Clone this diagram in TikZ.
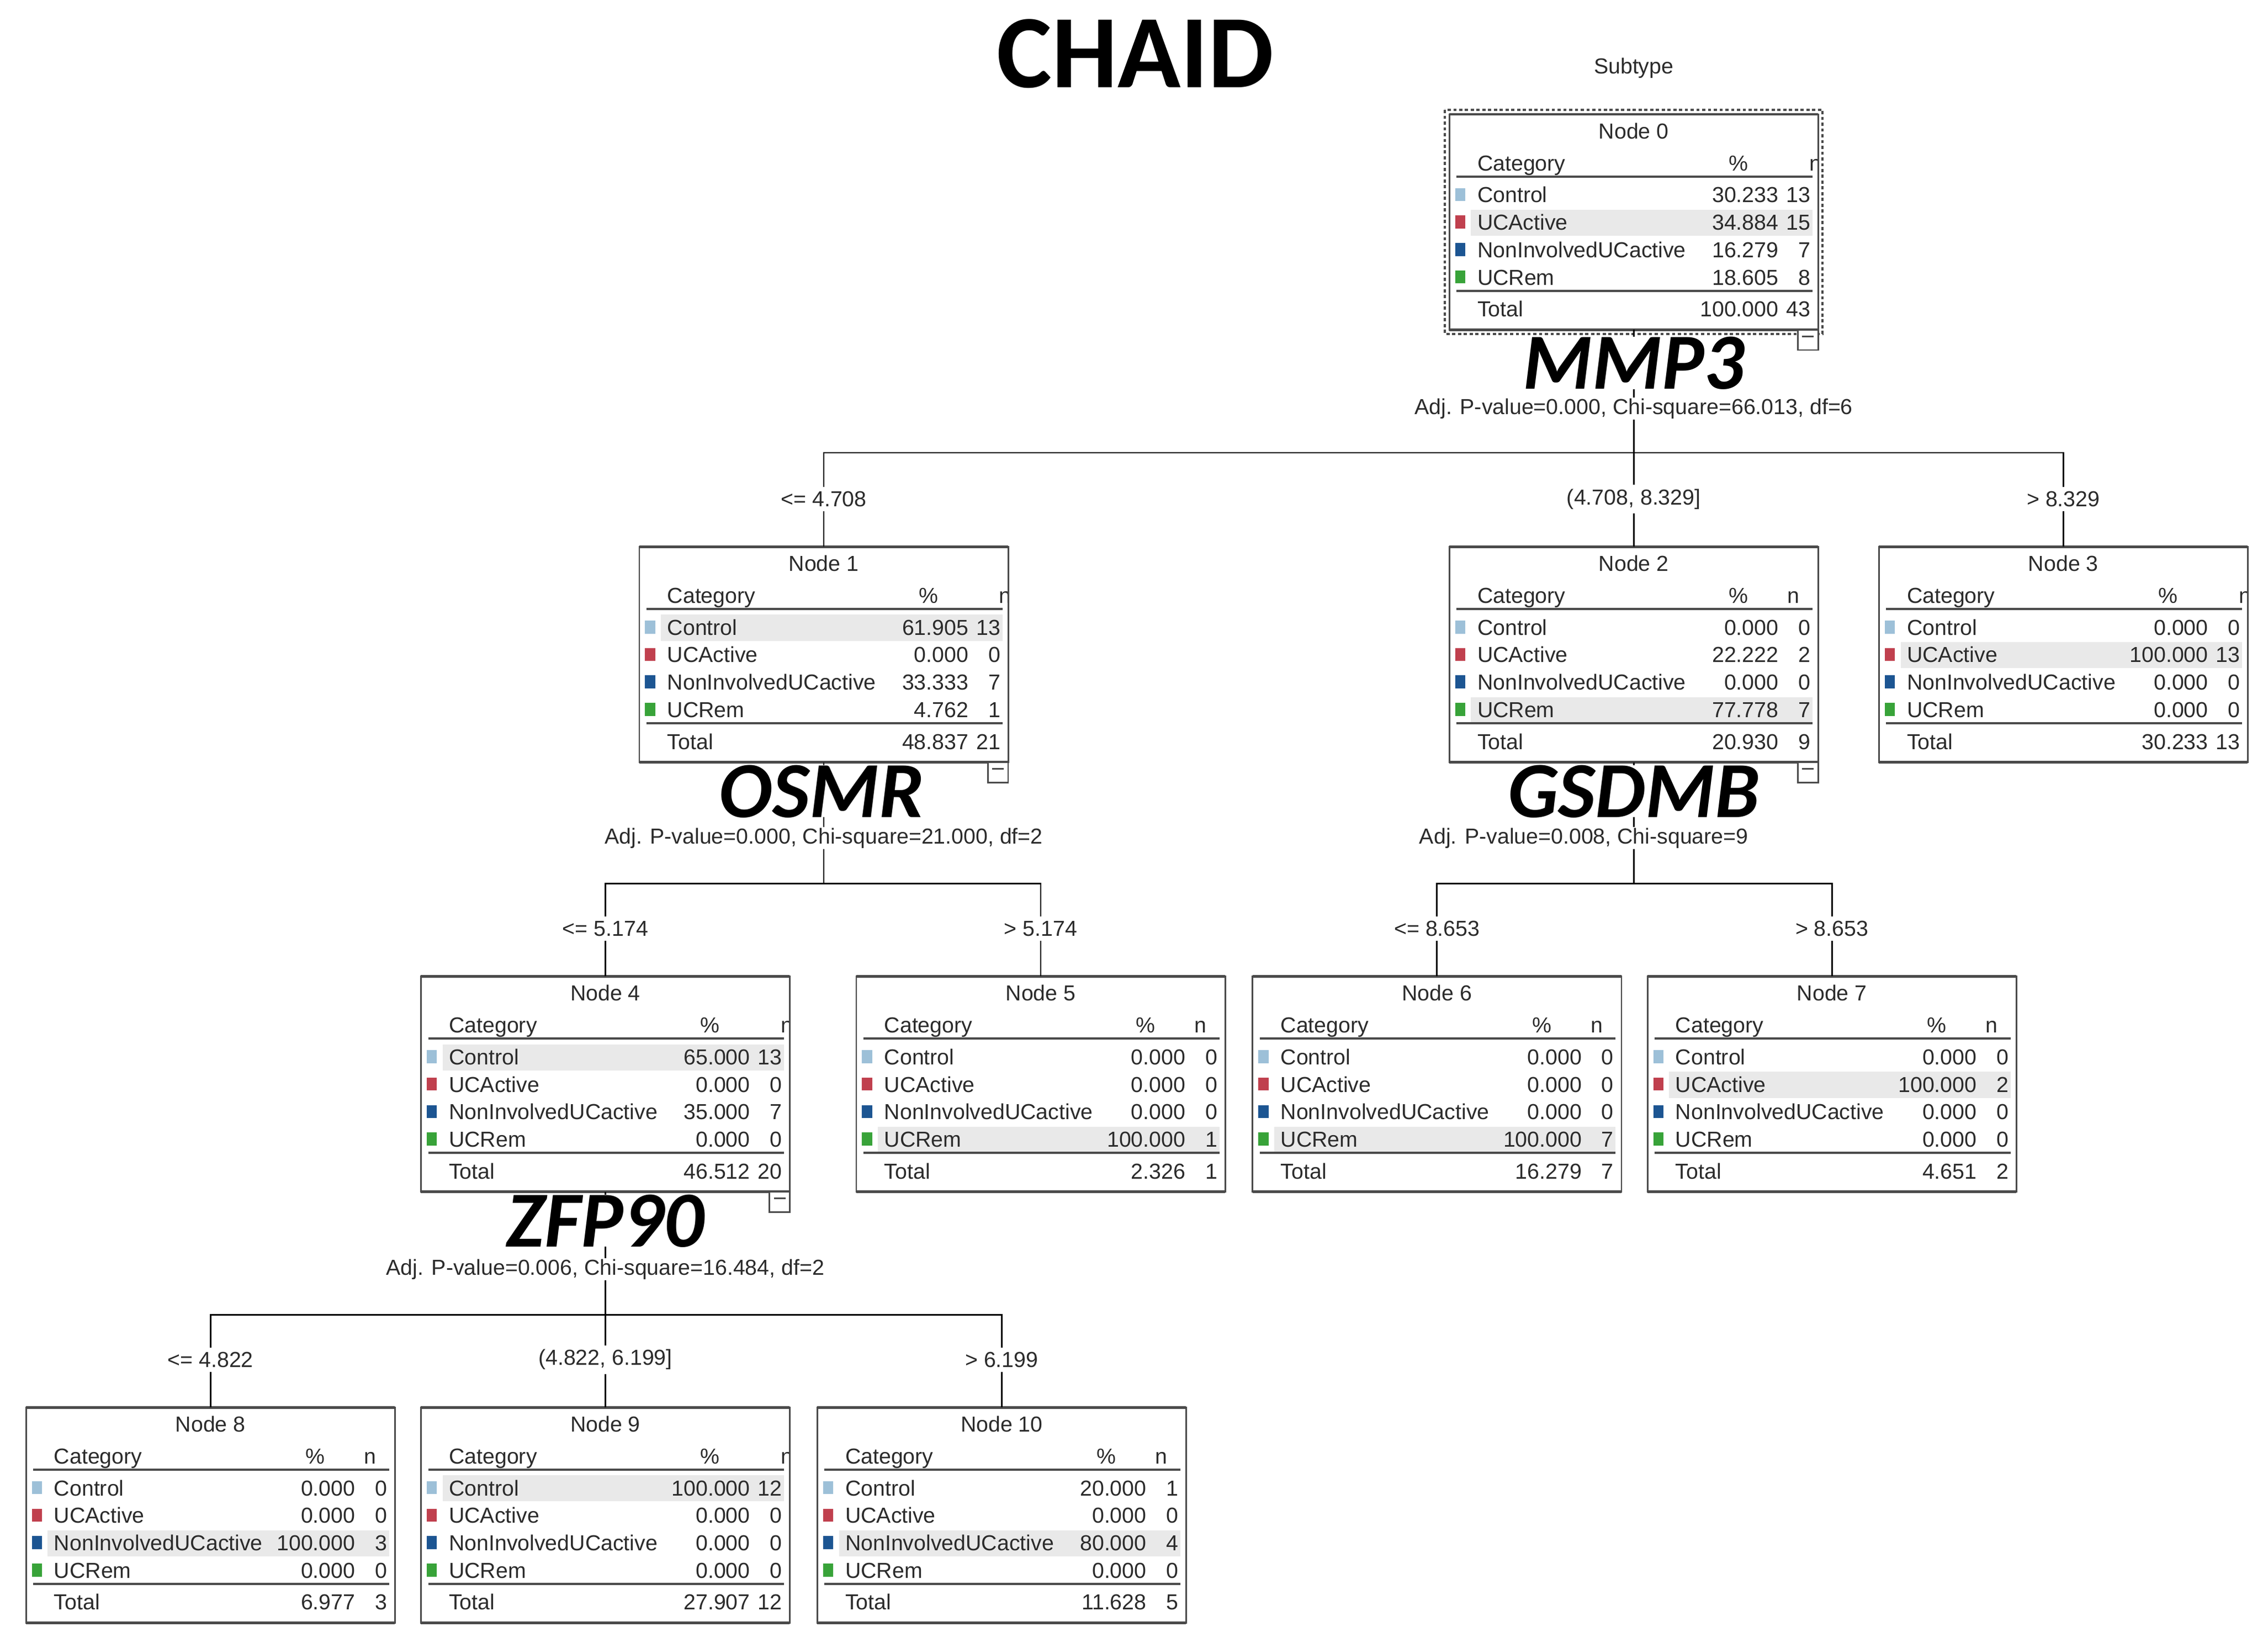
\documentclass[tikz,border=0pt]{standalone}
\usepackage{fontspec}
\setmainfont{Liberation Sans}
\newfontfamily\carlito{Carlito}
\definecolor{txtc}{HTML}{2B2B2B}
\definecolor{ctrlc}{HTML}{9DC0D8}
\definecolor{actc}{HTML}{C0404E}
\definecolor{nonc}{HTML}{1C5592}
\definecolor{remc}{HTML}{38A339}
\definecolor{hlc}{HTML}{E9E9E9}
\definecolor{rulec}{HTML}{4A4A4A}
\newcommand\tabfont{\fontsize{7.5pt}{9pt}\selectfont}
\tikzset{
 txt/.style={font=\tabfont, text=txtc, inner sep=0pt},
 cbox/.style={draw=rulec, line width=0.55pt, minimum width=127.5pt, minimum height=74.5pt, inner sep=0pt, outer sep=0pt, anchor=north west},
 conn/.style={draw=black, line width=0.55pt},
 elab/.style={font=\tabfont, text=txtc, fill=white, inner sep=1.5pt},
 gene/.style={font=\carlito\bfseries\itshape\fontsize{27.5pt}{30pt}\selectfont, fill=white, inner sep=0pt, text depth=0pt},
 pval/.style={font=\tabfont, text=txtc, fill=white, inner sep=0.3pt},
}
\newcommand\chead[2]{%
 \node[txt, anchor=base] (\cur-title) at (127.5,17) {#1};
 \node[txt, anchor=base west] (\cur-cat) at (19,39) {Category};
 \node[txt, anchor=base] (\cur-pc) at (200,39) {\%};
 \ifnum#2=1
  \begin{scope}\clip (0,0) rectangle (255,149);
   \node[txt, anchor=base] (\cur-nh) at (253,39) {n};
  \end{scope}
 \else
  \node[txt, anchor=base] (\cur-nh) at (238,39) {n};
 \fi
 \draw[rulec, line width=0.8pt] (5,43) -- (251,43);
 \draw[rulec, line width=0.8pt] (5,122) -- (251,122);
}
\newcommand\chl[1]{\fill[hlc] (15,{47+19*(#1-1)}) rectangle (251,{65+19*(#1-1)});}
\newcommand\crow[5]{%
 \fill[#2] (4,{51+19*(#1-1)}) rectangle (11,{60+19*(#1-1)});
 \node[txt, anchor=base west] (\cur-r#1a) at (19,{61+19*(#1-1)}) {#3};
 \node[txt, anchor=base east] (\cur-r#1b) at (228,{61+19*(#1-1)}) {#4};
 \node[txt, anchor=base east] (\cur-r#1c) at (250,{61+19*(#1-1)}) {#5};
}
\newcommand\ctotal[2]{%
 \node[txt, anchor=base west] (\cur-ta) at (19,140) {Total};
 \node[txt, anchor=base east] (\cur-tb) at (228,140) {#1};
 \node[txt, anchor=base east] (\cur-tc) at (250,140) {#2};
}
\newcommand\cframe{%
 \node[cbox] (\cur) at (0,0) {};
 \draw[rulec, line width=0.9pt] (0,0) -- (255,0) (0,149) -- (255,149);
}
\newcommand\cminus{%
 \draw[rulec, line width=0.5pt, fill=white] (241,149) rectangle (255,163);
 \draw[rulec, line width=0.6pt] (244,153.5) -- (252,153.5);
}
\begin{document}
\begin{tikzpicture}[x=0.5pt, y=-0.5pt]
\useasboundingbox[fill=white] (0,0) rectangle (1568,1139);

\node[font=\carlito\bfseries\fontsize{36pt}{40pt}\selectfont] (title) at (785,37) {CHAID};
\node[txt] (sub) at (1129.5,47) {Subtype};

% Node 0
\begin{scope}[shift={(1002,79)}]\def\cur{n0}
 \chl{2}
 \chead{Node 0}{1}
 \crow{1}{ctrlc}{Control}{30.233}{13}
 \crow{2}{actc}{UCActive}{34.884}{15}
 \crow{3}{nonc}{NonInvolvedUCactive}{16.279}{7}
 \crow{4}{remc}{UCRem}{18.605}{8}
 \ctotal{100.000}{43}
 \cframe
 \draw[rulec, dash pattern=on 1.1pt off 0.9pt, line width=0.8pt] (-3,-3) rectangle (258,152);
 \cminus
\end{scope}

% Node 1
\begin{scope}[shift={(442,378)}]\def\cur{n1}
 \chl{1}
 \chead{Node 1}{1}
 \crow{1}{ctrlc}{Control}{61.905}{13}
 \crow{2}{actc}{UCActive}{0.000}{0}
 \crow{3}{nonc}{NonInvolvedUCactive}{33.333}{7}
 \crow{4}{remc}{UCRem}{4.762}{1}
 \ctotal{48.837}{21}
 \cframe
 \cminus
\end{scope}

% Node 2
\begin{scope}[shift={(1002,378)}]\def\cur{n2}
 \chl{4}
 \chead{Node 2}{0}
 \crow{1}{ctrlc}{Control}{0.000}{0}
 \crow{2}{actc}{UCActive}{22.222}{2}
 \crow{3}{nonc}{NonInvolvedUCactive}{0.000}{0}
 \crow{4}{remc}{UCRem}{77.778}{7}
 \ctotal{20.930}{9}
 \cframe
 \cminus
\end{scope}

% Node 3
\begin{scope}[shift={(1299,378)}]\def\cur{n3}
 \chl{2}
 \chead{Node 3}{1}
 \crow{1}{ctrlc}{Control}{0.000}{0}
 \crow{2}{actc}{UCActive}{100.000}{13}
 \crow{3}{nonc}{NonInvolvedUCactive}{0.000}{0}
 \crow{4}{remc}{UCRem}{0.000}{0}
 \ctotal{30.233}{13}
 \cframe
\end{scope}

% Node 4
\begin{scope}[shift={(291,675)}]\def\cur{n4}
 \chl{1}
 \chead{Node 4}{1}
 \crow{1}{ctrlc}{Control}{65.000}{13}
 \crow{2}{actc}{UCActive}{0.000}{0}
 \crow{3}{nonc}{NonInvolvedUCactive}{35.000}{7}
 \crow{4}{remc}{UCRem}{0.000}{0}
 \ctotal{46.512}{20}
 \cframe
 \cminus
\end{scope}

% Node 5
\begin{scope}[shift={(592,675)}]\def\cur{n5}
 \chl{4}
 \chead{Node 5}{0}
 \crow{1}{ctrlc}{Control}{0.000}{0}
 \crow{2}{actc}{UCActive}{0.000}{0}
 \crow{3}{nonc}{NonInvolvedUCactive}{0.000}{0}
 \crow{4}{remc}{UCRem}{100.000}{1}
 \ctotal{2.326}{1}
 \cframe
\end{scope}

% Node 6
\begin{scope}[shift={(866,675)}]\def\cur{n6}
 \chl{4}
 \chead{Node 6}{0}
 \crow{1}{ctrlc}{Control}{0.000}{0}
 \crow{2}{actc}{UCActive}{0.000}{0}
 \crow{3}{nonc}{NonInvolvedUCactive}{0.000}{0}
 \crow{4}{remc}{UCRem}{100.000}{7}
 \ctotal{16.279}{7}
 \cframe
\end{scope}

% Node 7
\begin{scope}[shift={(1139,675)}]\def\cur{n7}
 \chl{2}
 \chead{Node 7}{0}
 \crow{1}{ctrlc}{Control}{0.000}{0}
 \crow{2}{actc}{UCActive}{100.000}{2}
 \crow{3}{nonc}{NonInvolvedUCactive}{0.000}{0}
 \crow{4}{remc}{UCRem}{0.000}{0}
 \ctotal{4.651}{2}
 \cframe
\end{scope}

% Node 8
\begin{scope}[shift={(18,973)}]\def\cur{n8}
 \chl{3}
 \chead{Node 8}{0}
 \crow{1}{ctrlc}{Control}{0.000}{0}
 \crow{2}{actc}{UCActive}{0.000}{0}
 \crow{3}{nonc}{NonInvolvedUCactive}{100.000}{3}
 \crow{4}{remc}{UCRem}{0.000}{0}
 \ctotal{6.977}{3}
 \cframe
\end{scope}

% Node 9
\begin{scope}[shift={(291,973)}]\def\cur{n9}
 \chl{1}
 \chead{Node 9}{1}
 \crow{1}{ctrlc}{Control}{100.000}{12}
 \crow{2}{actc}{UCActive}{0.000}{0}
 \crow{3}{nonc}{NonInvolvedUCactive}{0.000}{0}
 \crow{4}{remc}{UCRem}{0.000}{0}
 \ctotal{27.907}{12}
 \cframe
\end{scope}

% Node 10
\begin{scope}[shift={(565,973)}]\def\cur{n10}
 \chl{3}
 \chead{Node 10}{0}
 \crow{1}{ctrlc}{Control}{20.000}{1}
 \crow{2}{actc}{UCActive}{0.000}{0}
 \crow{3}{nonc}{NonInvolvedUCactive}{80.000}{4}
 \crow{4}{remc}{UCRem}{0.000}{0}
 \ctotal{11.628}{5}
 \cframe
\end{scope}

% connectors
\coordinate (b0) at (1129.5,313);
\coordinate (b1) at (569.5,611);
\coordinate (b2) at (1129.5,611);
\coordinate (b4) at (418.5,909);
\draw[conn] (n0.south) -- (b0);
\draw[conn] (n1.north) |- (b0) -| (n3.north);
\draw[conn] (b0) -- (n2.north);
\draw[conn] (n1.south) -- (b1);
\draw[conn] (n4.north) |- (b1) -| (n5.north);
\draw[conn] (n2.south) -- (b2);
\draw[conn] (n6.north) |- (b2) -| (n7.north);
\draw[conn] (n4.south) -- (b4);
\draw[conn] (n8.north) |- (b4) -| (n10.north);
\draw[conn] (b4) -- (n9.north);

% edge labels
\node[elab] (l1) at (569.5,345) {<= 4.708};
\node[elab] (l2) at (1129.5,345) {(4.708, 8.329]};
\node[elab] (l3) at (1426.5,345) {> 8.329};
\node[elab] (l4) at (418.5,642) {<= 5.174};
\node[elab] (l5) at (719.5,642) {> 5.174};
\node[elab] (l6) at (993.5,642) {<= 8.653};
\node[elab] (l7) at (1266.5,642) {> 8.653};
\node[elab] (l8) at (145.5,940) {<= 4.822};
\node[elab] (l9) at (418.5,940) {(4.822, 6.199]};
\node[elab] (l10) at (692.5,940) {> 6.199};

% split labels
\node[gene] (g0) at (1129.5,251) {MMP3};
\node[pval] (p0) at (1129.5,282.5) {Adj. P-value=0.000, Chi-square=66.013, df=6};
\node[gene] (g1) at (568,547) {OSMR};
\node[pval] (p1) at (569.5,579.5) {Adj. P-value=0.000, Chi-square=21.000, df=2};
\node[gene] (g2) at (1129.5,547) {GSDMB};
\node[pval] (p2) at (1095,579.5) {Adj. P-value=0.008, Chi-square=9};
\node[gene] (g4) at (418.5,844) {ZFP90};
\node[pval] (p4) at (418.5,877.5) {Adj. P-value=0.006, Chi-square=16.484, df=2};
\end{tikzpicture}
\end{document}
